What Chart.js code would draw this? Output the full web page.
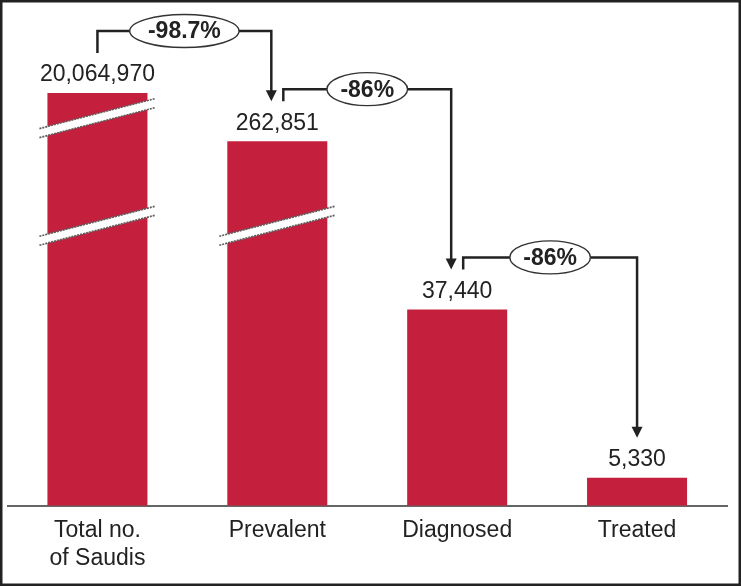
<!DOCTYPE html>
<html>
<head>
<meta charset="utf-8">
<script src="https://cdn.jsdelivr.net/npm/chart.js@4/dist/chart.umd.min.js"></script>
<style>
    html, body { margin: 0; padding: 0; background: #fff; }
    #wrap { width: 741px; height: 586px; }
</style>
</head>
<body>
<div id="wrap"><canvas id="funnel" width="741" height="586"></canvas></div>
<script>
const categories = [['Total no.', 'of Saudis'], 'Prevalent', 'Diagnosed', 'Treated'];
const counts = [20064970, 262851, 37440, 5330];
const dropLabels = ['-98.7%', '-86%', '-86%'];

// Broken axis: linear up to BREAK_AT, log-compressed above it
const BREAK_AT = 66600;
const LOG_SPAN = 4870;
function squash(v) {
    return v <= BREAK_AT ? v : BREAK_AT + LOG_SPAN * Math.log10(v / BREAK_AT);
}

// where the "//" break marks sit on the squashed axis
const BREAK_LEVELS = [53400, 73900];

const FONT = '"Liberation Sans", Arial, sans-serif';
const INK = '#222';

function fmt(v) {
    return String(v).replace(/\B(?=(\d{3})+(?!\d))/g, ',');
}

function drawBreak(ctx, cx, yc) {
    const x0 = cx - 58, x1 = cx + 58;
    const dy = 15, half = 4.5;
    ctx.save();
    ctx.fillStyle = '#fff';
    ctx.beginPath();
    ctx.moveTo(x0, yc + dy - half);
    ctx.lineTo(x1, yc - dy - half);
    ctx.lineTo(x1, yc - dy + half);
    ctx.lineTo(x0, yc + dy + half);
    ctx.closePath();
    ctx.fill();
    ctx.strokeStyle = '#5e5e5e';
    ctx.lineWidth = 1.6;
    ctx.setLineDash([2, 1]);
    ctx.beginPath();
    ctx.moveTo(x0, yc + dy - half);
    ctx.lineTo(x1, yc - dy - half);
    ctx.moveTo(x0, yc + dy + half);
    ctx.lineTo(x1, yc - dy + half);
    ctx.stroke();
    ctx.restore();
}

const annotations = {
    id: 'annotations',
    beforeDraw(chart) {
        const ctx = chart.ctx;
        ctx.save();
        ctx.fillStyle = '#fff';
        ctx.fillRect(0, 0, chart.width, chart.height);
        ctx.restore();
    },
    afterDatasetsDraw(chart) {
        const ctx = chart.ctx;
        const y = chart.scales.y;
        const bars = chart.getDatasetMeta(0).data;

        // break marks on the tall bars
        bars.forEach(bar => {
            BREAK_LEVELS.forEach(level => {
                const py = y.getPixelForValue(level);
                if (py > bar.y + 10) drawBreak(ctx, bar.x, py);
            });
        });

        // value labels
        const labelY = [];
        ctx.save();
        ctx.fillStyle = INK;
        ctx.font = '23px ' + FONT;
        ctx.textAlign = 'center';
        ctx.textBaseline = 'middle';
        bars.forEach((bar, i) => {
            labelY[i] = bar.y - 18;
            ctx.fillText(fmt(counts[i]), bar.x, labelY[i]);
        });
        ctx.restore();

        // step connectors with percentage drops
        const rise = [22, 12, 12];
        ctx.save();
        ctx.strokeStyle = INK;
        ctx.fillStyle = INK;
        ctx.lineWidth = 2.5;
        for (let i = 0; i < dropLabels.length; i++) {
            const sx = i === 0 ? bars[i].x : bars[i].x + 6;
            const tx = i + 1 === bars.length - 1 ? bars[i + 1].x : bars[i + 1].x - 6;
            const sy = labelY[i] - 22;
            const ty = labelY[i + 1] - 22;
            const ly = sy - rise[i];

            ctx.beginPath();
            ctx.moveTo(sx, sy);
            ctx.lineTo(sx, ly);
            ctx.lineTo(tx, ly);
            ctx.lineTo(tx, ty - 9);
            ctx.stroke();

            ctx.beginPath();
            ctx.moveTo(tx - 5.5, ty - 11);
            ctx.lineTo(tx + 5.5, ty - 11);
            ctx.lineTo(tx, ty);
            ctx.closePath();
            ctx.fill();

            // ellipse label
            ctx.font = 'bold 23px ' + FONT;
            const w = ctx.measureText(dropLabels[i]).width;
            const ex = (sx + tx) / 2;
            ctx.save();
            ctx.beginPath();
            ctx.ellipse(ex, ly, w * 0.75, 16.5, 0, 0, Math.PI * 2);
            ctx.fillStyle = '#fff';
            ctx.fill();
            ctx.lineWidth = 1.4;
            ctx.strokeStyle = '#333';
            ctx.stroke();
            ctx.restore();

            ctx.textAlign = 'center';
            ctx.textBaseline = 'middle';
            ctx.fillText(dropLabels[i], ex, ly + 1);
        }
        ctx.restore();
    },
    afterDraw(chart) {
        const ctx = chart.ctx;
        ctx.save();
        ctx.strokeStyle = '#222';
        ctx.lineWidth = 2.5;
        ctx.strokeRect(1.25, 1.25, chart.width - 2.5, chart.height - 2.5);
        ctx.restore();
    }
};

new Chart(document.getElementById('funnel'), {
    type: 'bar',
    data: {
        labels: categories,
        datasets: [{
            data: counts.map(squash),
            backgroundColor: '#c41f3d',
            barPercentage: 0.556,
            categoryPercentage: 1
        }]
    },
    options: {
        responsive: false,
        animation: false,
        events: [],
        layout: {
            padding: { left: 7.5, right: 14, top: 20, bottom: 3 }
        },
        plugins: {
            legend: { display: false },
            tooltip: { enabled: false }
        },
        scales: {
            x: {
                grid: { display: false, drawTicks: false },
                border: { display: true, color: '#666', width: 2 },
                ticks: {
                    color: INK,
                    font: { family: FONT, size: 23 },
                    padding: 11,
                    maxRotation: 0,
                    autoSkip: false
                }
            },
            y: {
                display: false,
                min: 0,
                max: 92600
            }
        }
    },
    plugins: [annotations]
});
</script>
</body>
</html>
